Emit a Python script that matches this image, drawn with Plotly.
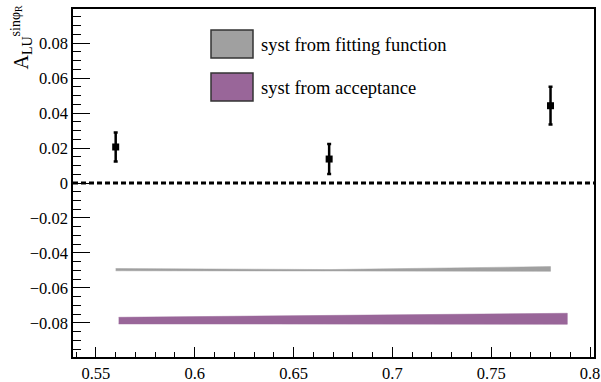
import plotly.graph_objects as go

# data points
x_pts = [0.560, 0.668, 0.780]
y_pts = [0.0206, 0.0137, 0.0442]
y_err = [0.0083, 0.0086, 0.0108]

# systematic band: fitting function
fit_x = [0.560, 0.668, 0.780]
fit_hi = [-0.0489, -0.0495, -0.0478]
fit_lo = [-0.0502, -0.0503, -0.0505]

# systematic band: acceptance
acc_x = [0.5615, 0.668, 0.7885]
acc_hi = [-0.0768, -0.0758, -0.0745]
acc_lo = [-0.0806, -0.0807, -0.0808]

legend_labels = ["syst from fitting function", "syst from acceptance"]
gray = "#a0a0a0"
purple = "#996699"

FONT = "Liberation Serif, DejaVu Serif, serif"

fig = go.Figure()

fig.add_trace(go.Scatter(
    x=fit_x + fit_x[::-1], y=fit_hi + fit_lo[::-1],
    fill="toself", fillcolor=gray, line=dict(width=0.5, color=gray),
    mode="lines", hoverinfo="skip", showlegend=False))
fig.add_trace(go.Scatter(
    x=acc_x + acc_x[::-1], y=acc_hi + acc_lo[::-1],
    fill="toself", fillcolor=purple, line=dict(width=0.5, color=purple),
    mode="lines", hoverinfo="skip", showlegend=False))

fig.add_trace(go.Scatter(
    x=x_pts, y=y_pts, mode="markers",
    marker=dict(symbol="square", size=7, color="black"),
    error_y=dict(type="data", array=y_err, visible=True, color="black",
                 thickness=2.5, width=2),
    showlegend=False))

xr = [0.5384, 0.802]
yr = [-0.0995, 0.0995]

# zero dashed line
fig.add_shape(type="line", xref="x", yref="y", x0=xr[0], x1=xr[1], y0=0, y1=0,
              line=dict(color="black", width=3, dash="5px,3px"))

# legend boxes
L, W = 73, 521
T, H = 9, 348
def px(xp):
    return (xp - L) / W
def py(yp):
    return 1 - (yp - T) / H

for i, (lab, col) in enumerate(zip(legend_labels, [gray, purple])):
    y0p = 30 + i * 43
    fig.add_shape(type="rect", xref="paper", yref="paper",
                  x0=px(211), x1=px(253), y0=py(y0p + 28), y1=py(y0p),
                  fillcolor=col, line=dict(color="#333333", width=1.5))
    fig.add_annotation(xref="paper", yref="paper", x=px(259), y=py(y0p + 15),
                       text=lab, showarrow=False, xanchor="left", yanchor="middle",
                       font=dict(family=FONT, size=18.5, color="black"))

# y title
fig.add_annotation(xref="paper", yref="paper", x=px(21), y=py(3),
                   text="A<sub>LU</sub><sup>sinφ<sub>R</sub></sup>",
                   textangle=-90, showarrow=False, xanchor="center", yanchor="top",
                   font=dict(family=FONT, size=20, color="black"))
# x title (cut off at bottom)
fig.add_annotation(xref="paper", yref="paper", x=px(590), y=py(377),
                   text="z", showarrow=False, xanchor="center", yanchor="top",
                   font=dict(family=FONT, size=14, color="black"))

axis_common = dict(showline=True, linecolor="black", linewidth=1.5, mirror=True,
                   ticks="inside", tickcolor="black", tickwidth=1,
                   showgrid=False, zeroline=False, automargin=False,
                   tickfont=dict(family=FONT, size=16.5, color="black"))

fig.update_xaxes(range=xr, tick0=0.55, dtick=0.05, ticklen=10,
                 minor=dict(ticks="inside", dtick=0.01, ticklen=5, tickcolor="black", showgrid=False),
                 **axis_common)
fig.update_yaxes(range=yr, tick0=0, dtick=0.02, ticklen=17,
                 minor=dict(ticks="inside", dtick=0.005, ticklen=8, tickcolor="black", showgrid=False),
                 **axis_common)

fig.update_layout(width=601, height=382,
                  margin=dict(l=L, r=601 - L - W, t=T, b=382 - T - H, autoexpand=False),
                  paper_bgcolor="white", plot_bgcolor="white", showlegend=False,
                  font=dict(family=FONT))

fig.write_html("out.html")
